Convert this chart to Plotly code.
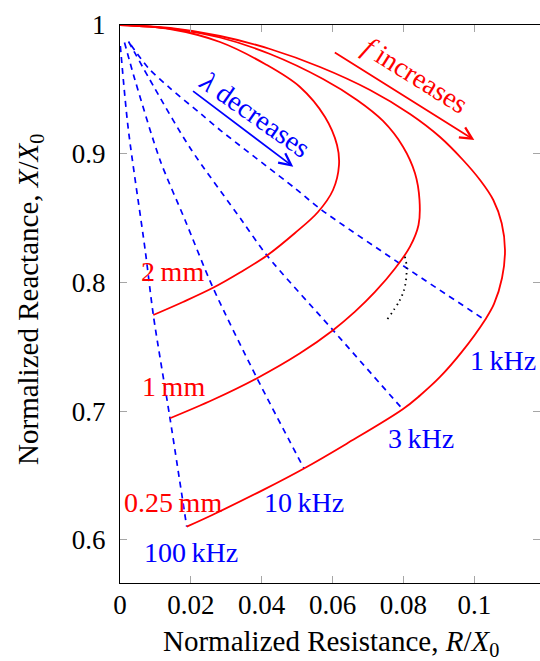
import plotly.graph_objects as go

# Normalized impedance loci (R/X0, X/X0) for three wire diameters
r_2mm = [0.0, 0.01411, 0.02822, 0.04093, 0.05080, 0.05786, 0.06125, 0.06181, 0.06012, 0.05588,
         0.04939, 0.04149, 0.03387, 0.02625, 0.01778, 0.00940]
x_2mm = [1.0, 0.99689, 0.98679, 0.96970, 0.95183, 0.92852, 0.90676, 0.89122, 0.87179, 0.85470,
         0.83838, 0.82090, 0.80769, 0.79580, 0.78477, 0.77467]

r_1mm = [0.0, 0.01411, 0.02822, 0.04234, 0.05730, 0.06689, 0.07423, 0.07988, 0.08326, 0.08453,
         0.08425, 0.08185, 0.07762, 0.07197, 0.06633, 0.06012, 0.05080, 0.03867, 0.02625, 0.01411]
x_1mm = [1.0, 0.99728, 0.99029, 0.97747, 0.95804, 0.94172, 0.92541, 0.90544, 0.88477, 0.86402,
         0.84460, 0.82774, 0.81080, 0.79254, 0.77723, 0.76286, 0.74491, 0.72556, 0.70878, 0.69441]

r_025mm = [0.0, 0.01411, 0.02822, 0.04234, 0.05645, 0.07056, 0.08185, 0.09032, 0.09681, 0.10161,
           0.10536, 0.10773, 0.10866, 0.10782, 0.10556, 0.10302, 0.09653, 0.09032, 0.08467, 0.07979,
           0.06398, 0.05193, 0.04045, 0.02633, 0.01883]
x_025mm = [1.0, 0.99767, 0.99145, 0.98135, 0.96737, 0.94949, 0.93085, 0.91298, 0.89510, 0.87956,
           0.86402, 0.84592, 0.82517, 0.80342, 0.78322, 0.77078, 0.74615, 0.72650, 0.71212, 0.70140,
           0.67467, 0.65540, 0.63877, 0.61966, 0.61018]

# Constant-frequency lines
r_1k = [0.0031, 0.0080, 0.0141, 0.0231, 0.0287, 0.0494, 0.05665, 0.07931, 0.10302]
x_1k = [0.9845, 0.9666, 0.9510, 0.9303, 0.9174, 0.8731, 0.8568, 0.81406, 0.77078]
r_3k = [0.0024, 0.0099, 0.0198, 0.0343, 0.04149, 0.06012, 0.07979]
x_3k = [0.9872, 0.9503, 0.9044, 0.8485, 0.82090, 0.76286, 0.70140]
r_10k = [0.00127, 0.00423, 0.01129, 0.01835, 0.02625, 0.03867, 0.05193]
x_10k = [0.9864, 0.9573, 0.8951, 0.8485, 0.79580, 0.72556, 0.65540]
r_100k = [0.0001, 0.0023, 0.0071, 0.00940, 0.01411, 0.01883]
x_100k = [0.9837, 0.9200, 0.8252, 0.77467, 0.69441, 0.61018]

# Small dotted arc
r_dot = [0.0804, 0.0809, 0.0804, 0.0790, 0.0753]
x_dot = [0.8200, 0.8122, 0.7967, 0.7863, 0.7708]

x_tickvals = [0, 0.02, 0.04, 0.06, 0.08, 0.1]
x_ticktext = ["0", "0.02", "0.04", "0.06", "0.08", "0.1"]
y_tickvals = [0.6, 0.7, 0.8, 0.9, 1.0]
y_ticktext = ["0.6", "0.7", "0.8", "0.9", "1"]

FONT = "Liberation Serif"
RED = "#ff0000"
BLUE = "#0000ff"

fig = go.Figure()

for rs, xs in [(r_1k, x_1k), (r_3k, x_3k), (r_10k, x_10k), (r_100k, x_100k)]:
    fig.add_trace(go.Scatter(x=rs, y=xs, mode="lines",
                             line=dict(color=BLUE, width=1.7, dash="6px,5px", shape="spline", smoothing=0.8),
                             hoverinfo="skip"))

for rs, xs in [(r_2mm, x_2mm), (r_1mm, x_1mm), (r_025mm, x_025mm)]:
    fig.add_trace(go.Scatter(x=rs, y=xs, mode="lines",
                             line=dict(color=RED, width=1.8, shape="spline", smoothing=1.0),
                             hoverinfo="skip"))

fig.add_trace(go.Scatter(x=r_dot, y=x_dot, mode="lines",
                         line=dict(color="black", width=1.8, dash="1.5px,4px", shape="spline"),
                         hoverinfo="skip"))

# invisible trace carrying the right-hand tick axis
fig.add_trace(go.Scatter(x=[0], y=[0.8], yaxis="y2", mode="markers",
                         marker=dict(opacity=0), hoverinfo="skip"))

labels = [
    ("2\u2009mm", 0.0148, 0.8083, RED),
    ("1\u2009mm", 0.0150, 0.7190, RED),
    ("0.25\u2009mm", 0.0149, 0.6288, RED),
    ("100\u2009kHz", 0.0199, 0.5900, BLUE),
    ("10\u2009kHz", 0.0519, 0.6288, BLUE),
    ("3\u2009kHz", 0.0850, 0.6789, BLUE),
    ("1\u2009kHz", 0.1081, 0.7392, BLUE),
]
annotations = []
for txt, ax_, ay_, col in labels:
    annotations.append(dict(x=ax_, y=ay_, xref="x", yref="y", text=txt, showarrow=False,
                            xanchor="center", yanchor="middle",
                            font=dict(family=FONT, size=28, color=col)))

# direction arrows with their captions
annotations += [
    dict(x=0.0489, y=0.8899, ax=0.0202, ay=0.9495, xref="x", yref="y", axref="x", ayref="y",
         text="", showarrow=True, arrowhead=5, arrowsize=1.3, arrowwidth=1.8, arrowcolor=BLUE),
    dict(x=0.1000, y=0.9106, ax=0.0602, ay=0.9793, xref="x", yref="y", axref="x", ayref="y",
         text="", showarrow=True, arrowhead=5, arrowsize=1.3, arrowwidth=1.8, arrowcolor=RED),
    dict(x=0.0381, y=0.9301, xref="x", yref="y", text="<i>λ</i> decreases", showarrow=False,
         xanchor="center", yanchor="middle",
         textangle=35, font=dict(family=FONT, size=28, color=BLUE)),
    dict(x=0.0835, y=0.9611, xref="x", yref="y", text="<i>f</i> increases", showarrow=False,
         xanchor="center", yanchor="middle",
         textangle=32, font=dict(family=FONT, size=28, color=RED)),
    dict(x=0.5024, y=-0.1075, xref="paper", yref="paper", showarrow=False,
         xanchor="center", yanchor="middle",
         text="Normalized Resistance, <i>R</i>/<i>X</i><sub>0</sub>",
         font=dict(family=FONT, size=29, color="black")),
    dict(x=-0.2143, y=0.5090, xref="paper", yref="paper", showarrow=False, textangle=-90,
         xanchor="center", yanchor="middle",
         text="Normalized Reactance, <i>X</i>/<i>X</i><sub>0</sub>",
         font=dict(family=FONT, size=29, color="black")),
]

axis_common = dict(showgrid=False, zeroline=False, ticks="inside", ticklen=7, tickwidth=1,
                   tickcolor="#a6a6a6", linecolor="black", linewidth=1.1,
                   tickfont=dict(family=FONT, size=27, color="black"))

fig.update_layout(
    width=540, height=661,
    margin=dict(l=120, r=0, t=25, b=78),
    paper_bgcolor="white", plot_bgcolor="white",
    showlegend=False,
    annotations=annotations,
    xaxis=dict(range=[0, 0.11854], tickvals=x_tickvals, ticktext=x_ticktext,
               showline=True, mirror="ticks", ticklabelstandoff=-2, **axis_common),
    yaxis=dict(range=[0.5664, 1.0], tickvals=y_tickvals, ticktext=y_ticktext,
               showline=True, mirror=False, ticklabelstandoff=8, **axis_common),
    yaxis2=dict(range=[0.5664, 1.0], overlaying="y", side="right", tickvals=y_tickvals,
                showticklabels=False, showline=False, showgrid=False, zeroline=False,
                ticks="inside", ticklen=7, tickwidth=1, tickcolor="#a6a6a6"),
)

fig.write_html("out.html")
